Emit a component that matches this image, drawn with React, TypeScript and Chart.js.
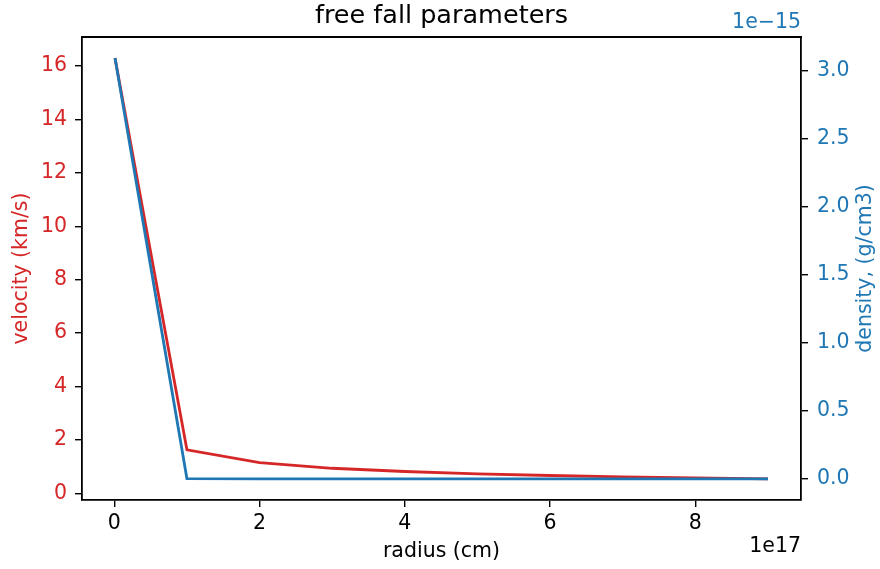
import React, { useEffect, useRef } from "react";
import { Chart, registerables } from "chart.js";

Chart.register(...registerables);

// radius in units of 1e17 cm
const radius = [0.01, 1, 2, 3, 4, 5, 6, 7, 8, 9];
// velocity in km/s
const velocity = [16.3, 1.63, 1.15, 0.94, 0.82, 0.73, 0.67, 0.62, 0.58, 0.54];
// density in units of 1e-15 g/cm3
const density = [3.09, 0.0031, 0.0011, 0.0006, 0.0004, 0.0003, 0.0002, 0.0001, 0.0001, 0.0001];

const xTicks = [0, 2, 4, 6, 8];
const vTicks = [0, 2, 4, 6, 8, 10, 12, 14, 16];
const dTicks = [0, 0.5, 1.0, 1.5, 2.0, 2.5, 3.0];

const RED = "#d62728";
const BLUE = "#1f77b4";
const FONT = "'DejaVu Sans', sans-serif";
const LABEL_SIZE = 20.5;

const textPlugin = {
  id: "mplText",
  afterDraw(chart: any) {
    const { ctx, chartArea } = chart;
    const { left, right, top, bottom } = chartArea;
    ctx.save();
    // top border
    ctx.strokeStyle = "#000";
    ctx.lineWidth = 1.8;
    ctx.beginPath();
    ctx.moveTo(left - 0.9, top);
    ctx.lineTo(right + 0.9, top);
    ctx.stroke();

    ctx.textBaseline = "middle";
    // title
    ctx.fillStyle = "#000";
    ctx.font = `25.5px ${FONT}`;
    ctx.textAlign = "center";
    ctx.fillText("free fall parameters", (left + right) / 2, 16);
    // x label
    ctx.font = `${LABEL_SIZE}px ${FONT}`;
    ctx.fillText("radius (cm)", (left + right) / 2, 552);
    // x offset
    ctx.textAlign = "right";
    ctx.fillText("1e17", right, 547);
    // right offset
    ctx.fillStyle = BLUE;
    ctx.fillText("1e\u221215", right, 23);
    // left y label
    const cy = (top + bottom) / 2;
    ctx.textAlign = "center";
    ctx.fillStyle = RED;
    ctx.save();
    ctx.translate(22, cy);
    ctx.rotate(-Math.PI / 2);
    ctx.fillText("velocity (km/s)", 0, 0);
    ctx.restore();
    ctx.fillStyle = BLUE;
    ctx.save();
    ctx.translate(866, cy);
    ctx.rotate(-Math.PI / 2);
    ctx.fillText("density, (g/cm3)", 0, 0);
    ctx.restore();
    ctx.restore();
  },
};

export default function App() {
  const ref = useRef<HTMLCanvasElement | null>(null);
  useEffect(() => {
    if (!ref.current) return;
    const tickFont = { family: FONT, size: LABEL_SIZE };
    const chart = new Chart(ref.current, {
      type: "line",
      data: {
        datasets: [
          {
            label: "velocity",
            data: radius.map((r, i) => ({ x: r, y: velocity[i] })),
            borderColor: RED,
            borderWidth: 2.8,
            pointRadius: 0,
            yAxisID: "y",
            order: 2,
            tension: 0,
          },
          {
            label: "density",
            data: radius.map((r, i) => ({ x: r, y: density[i] })),
            borderColor: BLUE,
            borderWidth: 2.8,
            pointRadius: 0,
            yAxisID: "y1",
            order: 1,
            tension: 0,
          },
        ],
      },
      options: {
        animation: false,
        responsive: false,
        maintainAspectRatio: false,
        layout: { padding: { top: 37, left: 0, right: 0, bottom: 0 } },
        plugins: { legend: { display: false }, tooltip: { enabled: false }, title: { display: false } },
        scales: {
          x: {
            type: "linear",
            min: -0.4445,
            max: 9.4545,
            afterBuildTicks: (s: any) => {
              s.ticks = xTicks.map((v) => ({ value: v }));
            },
            afterFit: (s: any) => {
              s.height = 69;
            },
            ticks: { color: "#000", font: tickFont, padding: 4, maxRotation: 0, callback: (v: any) => String(v) },
            grid: { drawOnChartArea: false, drawTicks: true, tickLength: 7, color: "#000", lineWidth: 1.4 },
            border: { display: true, color: "#000", width: 1.8 },
          },
          y: {
            type: "linear",
            position: "left",
            min: -0.248,
            max: 17.088,
            afterBuildTicks: (s: any) => {
              s.ticks = vTicks.map((v) => ({ value: v }));
            },
            afterFit: (s: any) => {
              s.width = 82;
            },
            ticks: { color: RED, font: tickFont, padding: 8, callback: (v: any) => String(v) },
            grid: { drawOnChartArea: false, drawTicks: true, tickLength: 7, color: "#000", lineWidth: 1.4 },
            border: { display: true, color: "#000", width: 1.8 },
          },
          y1: {
            type: "linear",
            position: "right",
            min: -0.1545,
            max: 3.2445,
            afterBuildTicks: (s: any) => {
              s.ticks = dTicks.map((v) => ({ value: v }));
            },
            afterFit: (s: any) => {
              s.width = 79;
            },
            ticks: { color: BLUE, font: tickFont, padding: 9, callback: (v: any) => Number(v).toFixed(1) },
            grid: { drawOnChartArea: false, drawTicks: true, tickLength: 7, color: "#000", lineWidth: 1.4 },
            border: { display: true, color: "#000", width: 1.8 },
          },
        },
      },
      plugins: [textPlugin],
    } as any);
    return () => chart.destroy();
  }, []);
  return (
    <div style={{ position: "fixed", left: 0, top: 0, width: 880, height: 569, background: "#fff" }}>
      <canvas ref={ref} width={880} height={569} style={{ width: 880, height: 569 }} />
    </div>
  );
}
